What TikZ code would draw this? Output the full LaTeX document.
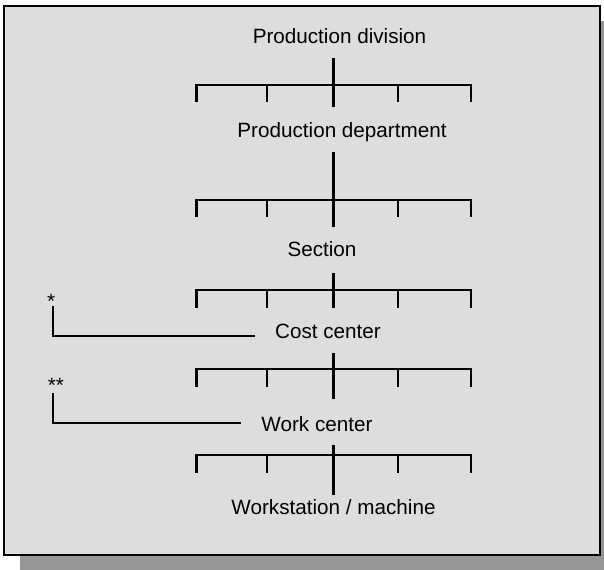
\documentclass[tikz,border=0pt]{standalone}
\usepackage{fontspec}
\setmainfont{Liberation Sans}
\usetikzlibrary{positioning}
\definecolor{panelgray}{HTML}{DDDDDD}
\definecolor{shadegray}{HTML}{969696}
\tikzset{
  panel/.style = {draw=black, line width=1pt, fill=panelgray},
  shade/.style = {fill=shadegray},
  tier/.style  = {font=\fontsize{14.7}{17}\selectfont, inner sep=0pt, anchor=base},
  wire/.style  = {line width=1.6pt},
}

\begin{document}
\begin{tikzpicture}[x=0.025cm,y=-0.025cm]
  \useasboundingbox (0,0) rectangle (604,570);
  \fill[shade] (20,21) rectangle (604,570);
  \draw[panel] (4,6) rectangle (600,555);
  %
  \node[tier] (div)  at (339.5,43.5) {Production division};
  \node[tier] (dep)  at (342,138)    {Production department};
  \node[tier] (sec)  at (322,257)    {Section};
  \node[tier] (cost) at (328,338)    {Cost center};
  \node[tier] (work) at (317,431)    {Work center};
  \node[tier] (ws)   at (333.5,514)  {Workstation / machine};
  %
  \foreach \n/\y/\t/\c in {1/85/58/107, 2/200/152/227, 3/290/273/308,
                           4/369/353/399, 5/455/445/495} {
    \coordinate (top\n)  at (333.6,\t);
    \coordinate (foot\n) at (333.6,\c);
    \draw[wire] (196.5,\y+17.5) -- (196.5,\y) -- (470.7,\y) -- (470.7,\y+17.5);
    \foreach \x in {267,398}
      \draw[wire] (\x,\y) -- (\x,\y+17.5);
    \draw[wire] (top\n) -- (foot\n);
  }
  %
  \node[tier] (cstar) at (51.2,308) {*};
  \node[tier] (wstar) at (56,392)   {**};
  \coordinate (ctop) at (52.8,306);
  \coordinate (cend) at (255.4,336);
  \coordinate (wtop) at (52.8,393);
  \coordinate (wend) at (240.7,423);
  \draw[wire] (ctop) |- (cend);
  \draw[wire] (wtop) |- (wend);
\end{tikzpicture}
\end{document}
